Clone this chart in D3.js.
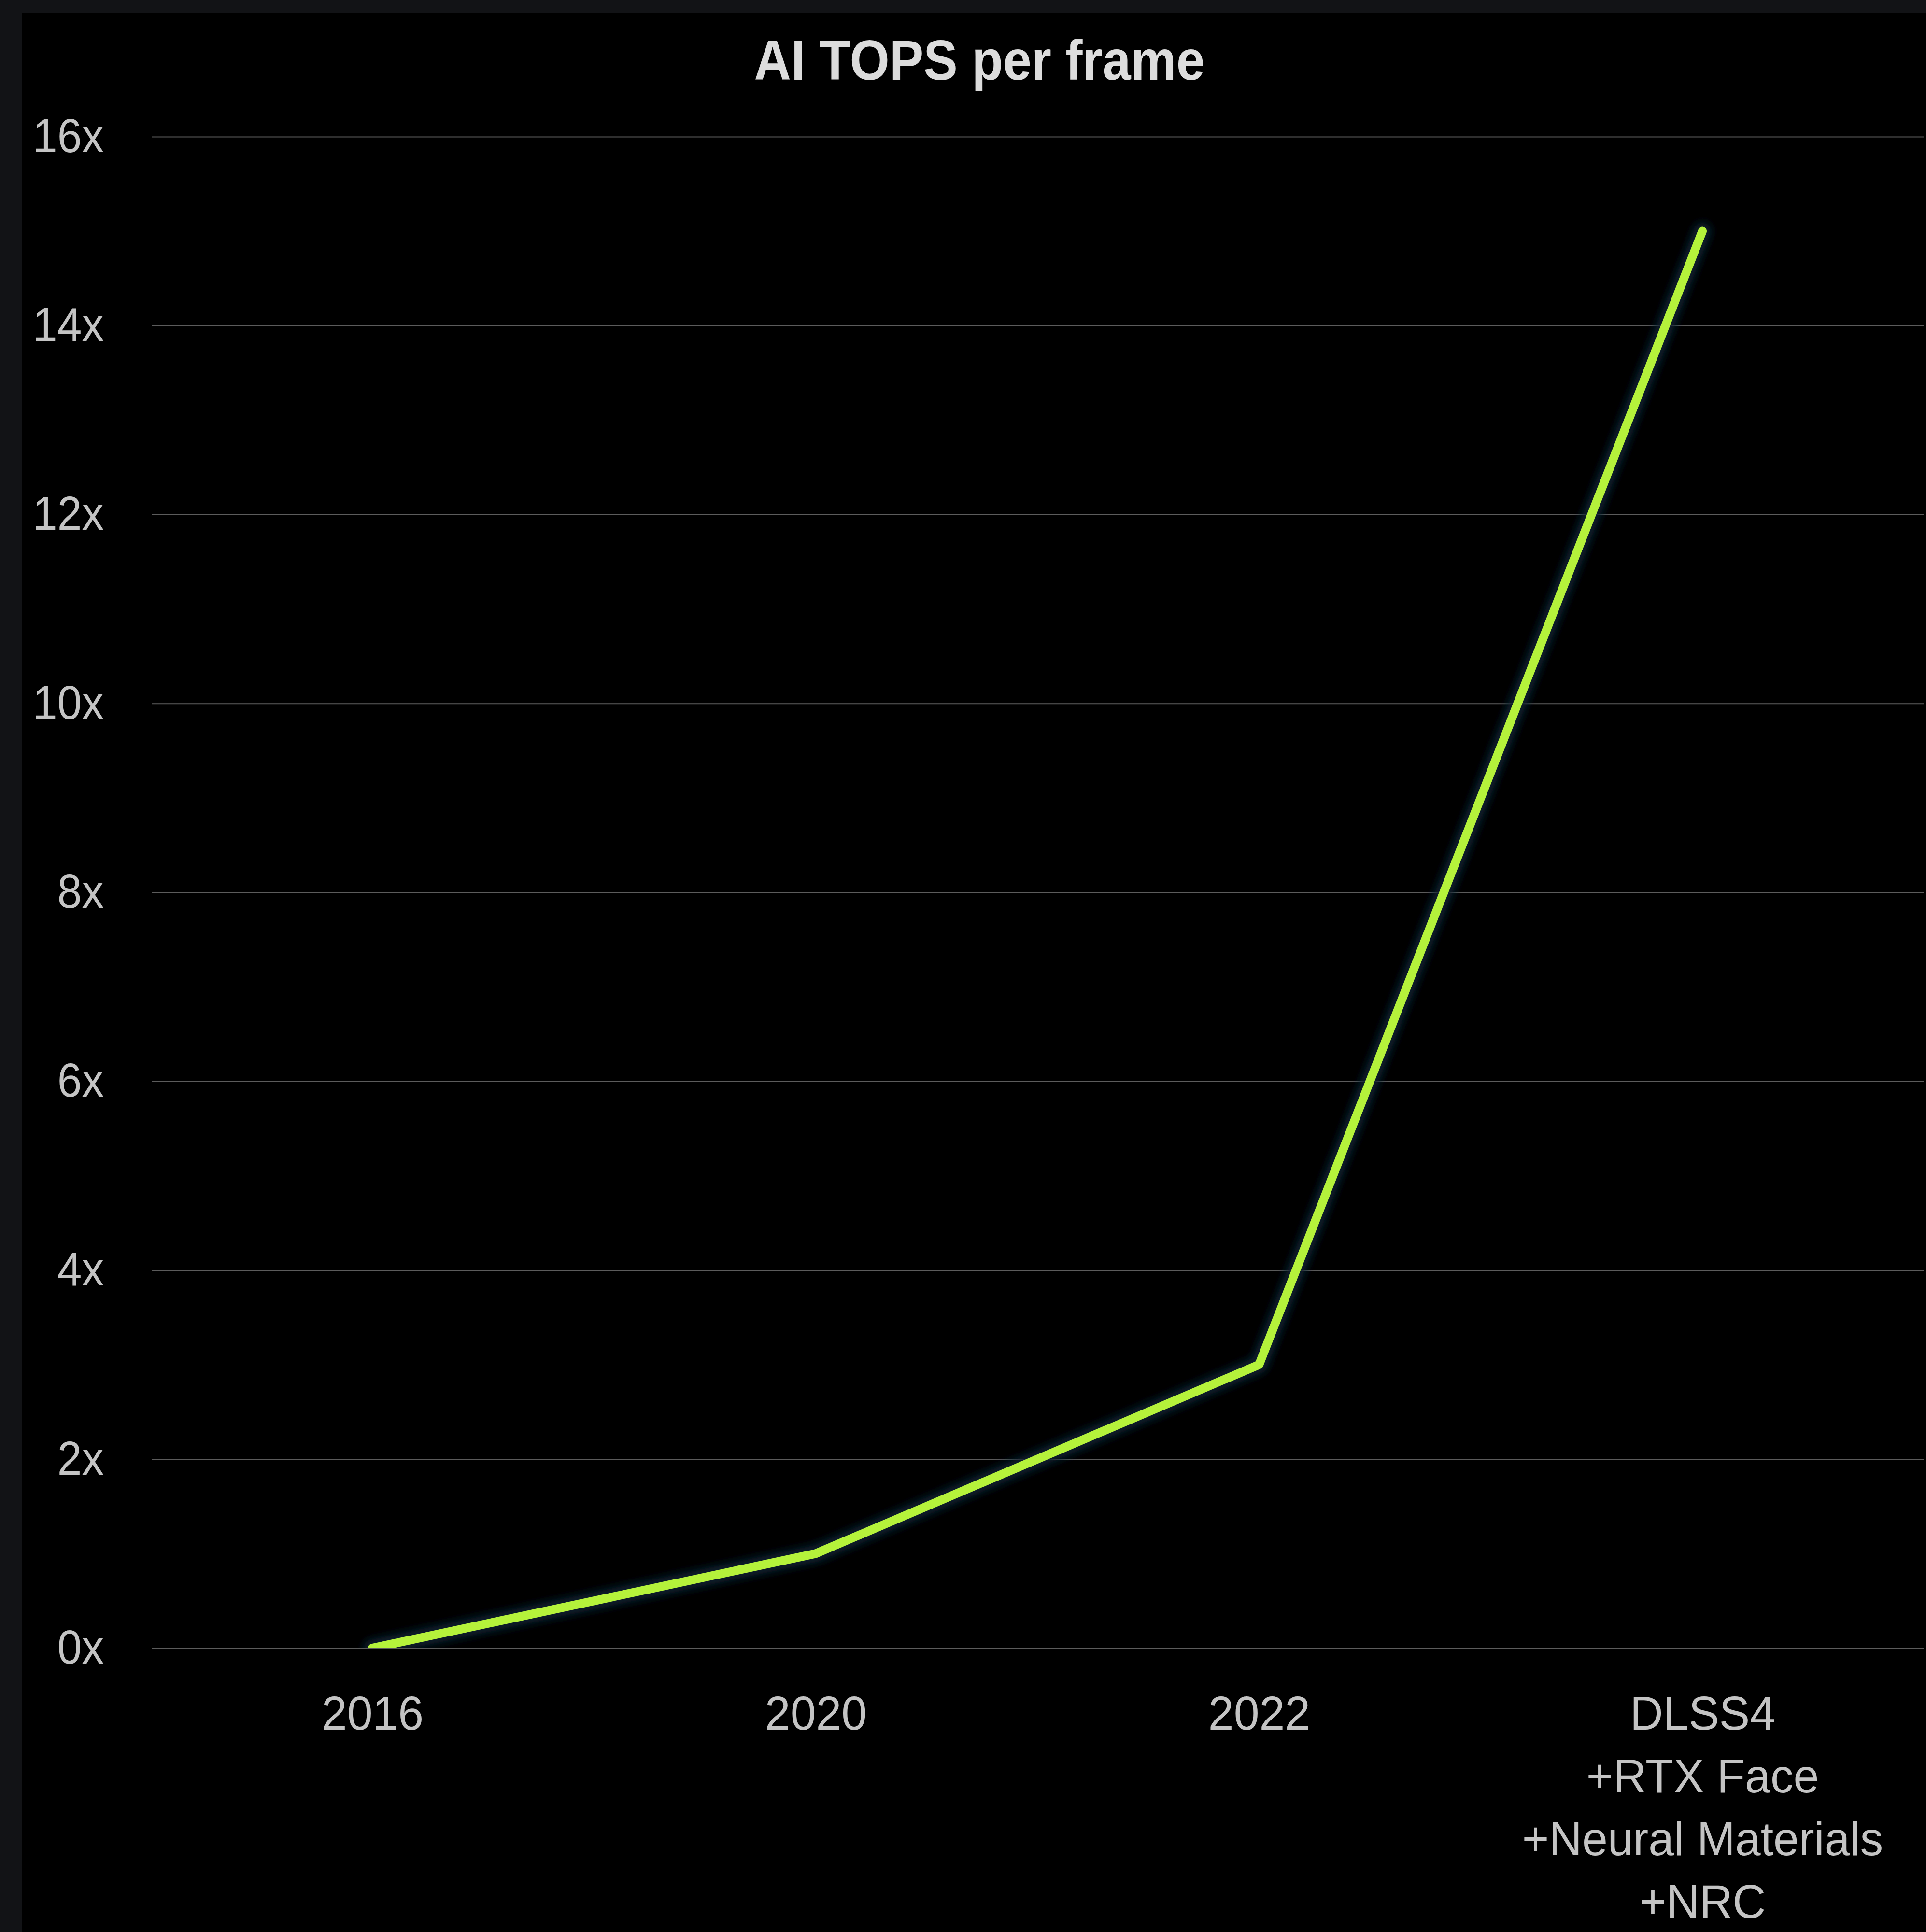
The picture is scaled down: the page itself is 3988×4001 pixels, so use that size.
<!DOCTYPE html>
<html>
<head>
<meta charset="utf-8">
<script src="https://cdn.jsdelivr.net/npm/d3@7"></script>
<style>
  html, body { margin: 0; padding: 0; background: #121316; }
  svg { display: block; }
</style>
</head>
<body>
<svg id="chart" width="3988" height="4001"></svg>
<script>
// Data
const categories = ["2016", "2020", "2022", "DLSS4"];
const categoryLines = [["2016"], ["2020"], ["2022"], ["DLSS4", "+RTX Face", "+Neural Materials", "+NRC"]];
const values = [0, 1, 3, 15];
const yTickValues = [0, 2, 4, 6, 8, 10, 12, 14, 16];
const yTickLabels = ["0x", "2x", "4x", "6x", "8x", "10x", "12x", "14x", "16x"];
const titleText = "AI TOPS per frame";

const W = 3988, H = 4001;
const plot = { left: 314, right: 3984, top: 283, bottom: 3413 };
const yLabelSquash = 0.93, xLabelSquash = 0.97;

const svg = d3.select("#chart");

// Page frame and black panel
svg.append("rect").attr("width", W).attr("height", H).attr("fill", "#121316");
svg.append("rect").attr("x", 45).attr("y", 26).attr("width", W - 45).attr("height", H - 26).attr("fill", "#000");

const x = d3.scalePoint().domain(categories).range([312, plot.right]).padding(0.5);
const y = d3.scaleLinear().domain([0, 16]).range([plot.bottom, plot.top]);

// Y axis with gridlines
const yAxis = d3.axisLeft(y)
  .tickValues(yTickValues)
  .tickFormat((d, i) => yTickLabels[i])
  .tickSize(-(plot.right - plot.left))
  .tickPadding(99 / yLabelSquash);

const gy = svg.append("g").attr("transform", `translate(${plot.left},0)`).call(yAxis);
gy.select(".domain").remove();
gy.selectAll(".tick line").attr("stroke", "#5c5c5c").attr("stroke-width", 2);
gy.selectAll(".tick text")
  .attr("fill", "#c4c4c4")
  .attr("transform", `scale(${yLabelSquash},1)`)
  .style("font-family", "'Liberation Sans', Arial, sans-serif")
  .style("font-size", "98px");

// X axis with multi-line category labels
const xAxis = d3.axisBottom(x).tickSize(0).tickPadding(0);
const gx = svg.append("g").attr("transform", `translate(0,${plot.bottom})`).call(xAxis);
gx.select(".domain").remove();
gx.selectAll(".tick text").each(function(d) {
  const t = d3.select(this);
  t.text(null).attr("y", 169).attr("dy", null)
    .attr("fill", "#c4c4c4")
    .attr("transform", `scale(${xLabelSquash},1)`)
    .style("font-family", "'Liberation Sans', Arial, sans-serif")
    .style("font-size", "98px");
  categoryLines[categories.indexOf(d)].forEach((line, j) => {
    t.append("tspan").attr("x", 0).attr("dy", j === 0 ? 0 : 130).text(line);
  });
});

// Clip the series to the plotted area (above the 0x baseline)
const defs = svg.append("defs");
defs.append("clipPath").attr("id", "plotClip")
  .append("rect").attr("x", 45).attr("y", 0).attr("width", W - 45).attr("height", plot.bottom);

const glow = defs.append("filter").attr("id", "glow")
  .attr("x", "-20%").attr("y", "-20%").attr("width", "140%").attr("height", "140%");
glow.append("feGaussianBlur").attr("stdDeviation", 9);

const line = d3.line()
  .x((d, i) => x(categories[i]))
  .y(d => y(d));

const series = svg.append("g").attr("clip-path", "url(#plotClip)");
series.append("path")
  .datum(values)
  .attr("d", line)
  .attr("fill", "none")
  .attr("stroke", "#072232")
  .attr("stroke-width", 36)
  .attr("stroke-linecap", "round")
  .attr("stroke-linejoin", "round")
  .attr("filter", "url(#glow)");
series.append("path")
  .datum(values)
  .attr("d", line)
  .attr("fill", "none")
  .attr("stroke", "#b5f23b")
  .attr("stroke-width", 18)
  .attr("stroke-linecap", "round")
  .attr("stroke-linejoin", "round");

// Title
svg.append("text")
  .attr("x", 2028)
  .attr("y", 165)
  .attr("text-anchor", "middle")
  .attr("fill", "#dcdcdc")
  .attr("textLength", 933)
  .attr("lengthAdjust", "spacingAndGlyphs")
  .style("font-family", "'Liberation Sans', Arial, sans-serif")
  .style("font-weight", "bold")
  .style("font-size", "116px")
  .text(titleText);
</script>
</body>
</html>
